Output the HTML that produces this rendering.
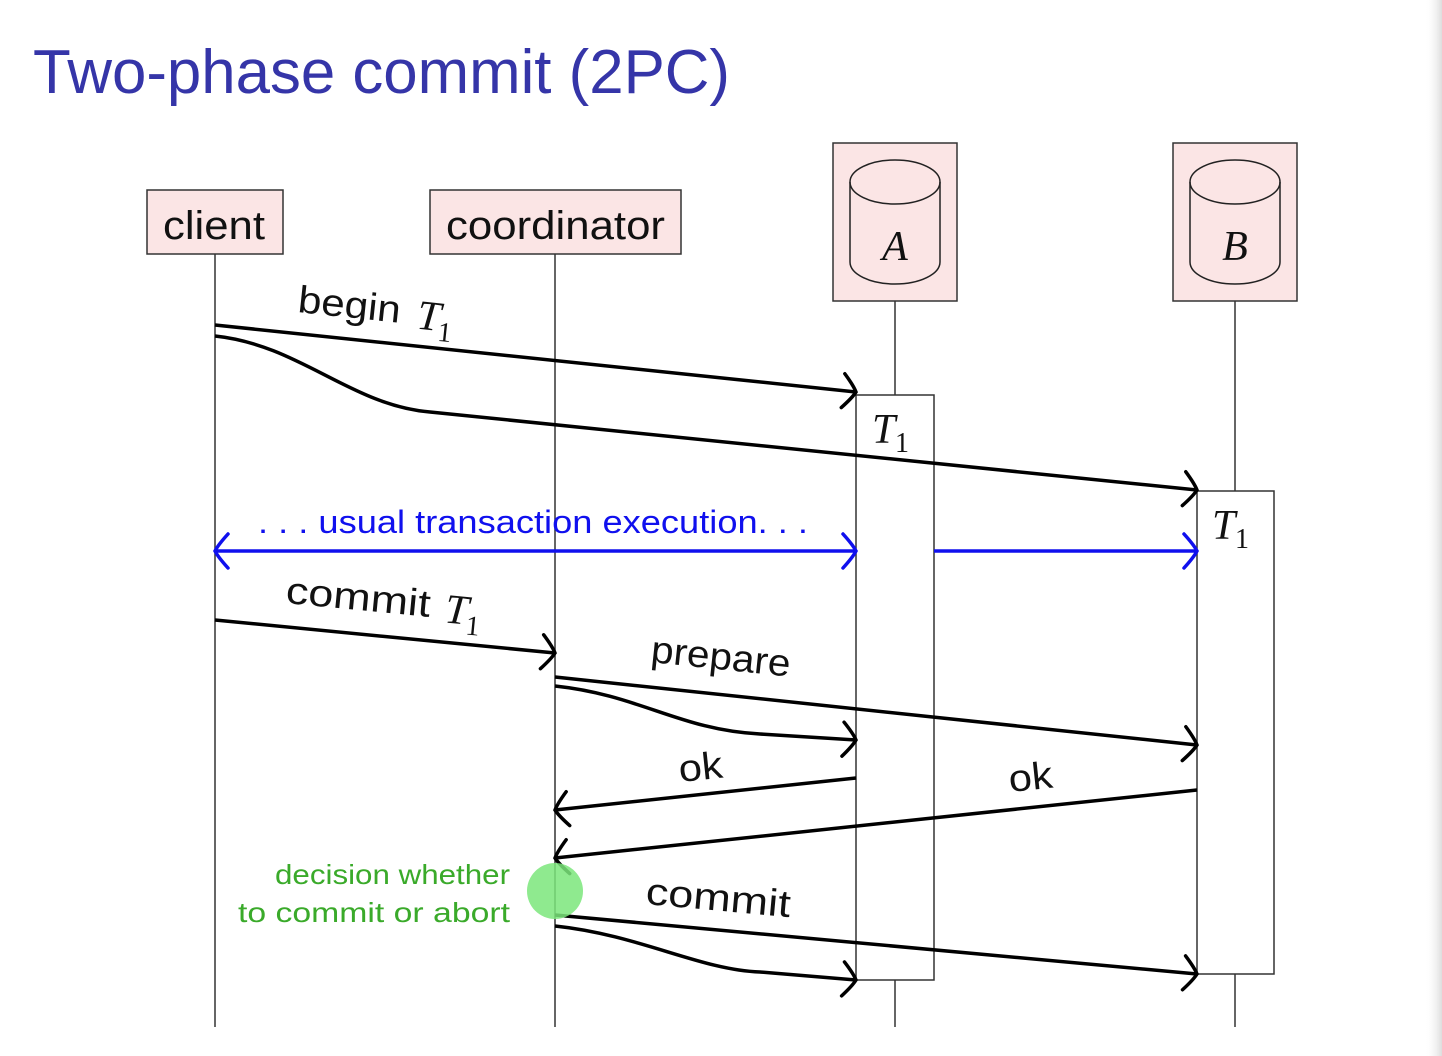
<!DOCTYPE html>
<html><head><meta charset="utf-8"><style>
html,body{margin:0;padding:0;background:#fff;}
svg{display:block;}
</style></head><body>
<svg width="1442" height="1056" viewBox="0 0 1442 1056" xmlns="http://www.w3.org/2000/svg">
<defs>
<linearGradient id="sh" x1="0" x2="1" y1="0" y2="0"><stop offset="0" stop-color="#fff" stop-opacity="0"/><stop offset="1" stop-color="#ddd"/></linearGradient>
<g id="ah"><path d="M-13,-17 Q-3,-6 0,0 Q-3,6 -13,17" fill="none" stroke-width="3.5" stroke-linecap="round"/></g>
</defs>
<rect x="1425" y="0" width="17" height="1056" fill="url(#sh)"/>
<text x="33" y="93" font-family="Liberation Sans, sans-serif" font-size="62" fill="#3535a8" textLength="697" lengthAdjust="spacingAndGlyphs">Two-phase commit (2PC)</text>

<g stroke="#333" stroke-width="1.5">
<line x1="215" y1="254" x2="215" y2="1027"/>
<line x1="555" y1="254" x2="555" y2="1027"/>
<line x1="895" y1="301" x2="895" y2="395"/>
<line x1="895" y1="980" x2="895" y2="1027"/>
<line x1="1235" y1="301" x2="1235" y2="491"/>
<line x1="1235" y1="974" x2="1235" y2="1027"/>
</g>
<g stroke="#333" stroke-width="1.5" fill="#fbe5e5">
<rect x="147" y="190" width="136" height="64"/>
<rect x="430" y="190" width="251" height="64"/>
<rect x="833" y="143" width="124" height="158"/>
<rect x="1173" y="143" width="124" height="158"/>
</g>
<g font-family="Liberation Sans, sans-serif" font-size="40" fill="#111">
<text x="163" y="239" textLength="102" lengthAdjust="spacingAndGlyphs">client</text>
<text x="446" y="239" textLength="219" lengthAdjust="spacingAndGlyphs">coordinator</text>
</g>
<g stroke="#222" stroke-width="1.5" fill="none">
<ellipse cx="895" cy="182" rx="45" ry="22"/>
<path d="M850,182 L850,262 A45,22 0 0 0 940,262 L940,182"/>
<ellipse cx="1235" cy="182" rx="45" ry="22"/>
<path d="M1190,182 L1190,262 A45,22 0 0 0 1280,262 L1280,182"/>
</g>
<g font-family="Liberation Serif, serif" font-style="italic" font-size="42" fill="#111" text-anchor="middle">
<text x="895" y="260">A</text>
<text x="1235" y="260">B</text>
</g>
<g stroke="#333" stroke-width="1.5" fill="#fff">
<rect x="856" y="395" width="78" height="585"/>
<rect x="1197" y="491" width="77" height="483"/>
</g>
<g font-family="Liberation Serif, serif" fill="#111">
<text x="872" y="443" font-size="42" font-style="italic">T</text><text x="895" y="452" font-size="28">1</text>
<text x="1212" y="539" font-size="42" font-style="italic">T</text><text x="1235" y="548" font-size="28">1</text>
</g>

<g stroke="#000" stroke-width="3.5" fill="none">
<path d="M215,325 L856,392"/>
<path d="M215,336 C300,345 350,405 430,412 L1197,490"/>
<path d="M215,620 L555,653"/>
<path d="M555,677 L1197,745"/>
<path d="M555,686 C640,695 680,730 760,734 L856,740"/>
<path d="M856,778 L555,810"/>
<path d="M1197,790 L555,858"/>
<path d="M555,915 L1197,974"/>
<path d="M555,926 C640,935 700,970 760,972 L856,980"/>
</g>
<g stroke="#000">
<use href="#ah" transform="translate(856,392) rotate(6)"/>
<use href="#ah" transform="translate(1197,490) rotate(5.8)"/>
<use href="#ah" transform="translate(555,653) rotate(5.5)"/>
<use href="#ah" transform="translate(1197,745) rotate(6)"/>
<use href="#ah" transform="translate(856,740) rotate(3.6)"/>
<use href="#ah" transform="translate(555,810) rotate(174)"/>
<use href="#ah" transform="translate(555,858) rotate(174)"/>
<use href="#ah" transform="translate(1197,974) rotate(5.2)"/>
<use href="#ah" transform="translate(856,980) rotate(4.8)"/>
</g>
<g stroke="#1010ee" stroke-width="3.5" fill="none">
<path d="M215,551 L856,551"/>
<path d="M934,551 L1197,551"/>
</g>
<g stroke="#1010ee">
<use href="#ah" transform="translate(856,551)"/>
<use href="#ah" transform="translate(215,551) rotate(180)"/>
<use href="#ah" transform="translate(1197,551)"/>
</g>
<text x="258" y="533" font-family="Liberation Sans, sans-serif" font-size="32" fill="#1010ee" textLength="550" lengthAdjust="spacingAndGlyphs">. . . usual transaction execution. . .</text>

<g font-family="Liberation Sans, sans-serif" font-size="38" fill="#111">
<g transform="translate(297,312) rotate(6)"><text x="0" y="0" textLength="103" lengthAdjust="spacingAndGlyphs">begin</text><text x="120" y="4" font-family="Liberation Serif, serif" font-style="italic" font-size="42">T</text><text x="142" y="14" font-family="Liberation Serif, serif" font-size="28">1</text></g>
<g transform="translate(285,603) rotate(5.5)"><text x="0" y="0" textLength="145" lengthAdjust="spacingAndGlyphs">commit</text><text x="160" y="4" font-family="Liberation Serif, serif" font-style="italic" font-size="42">T</text><text x="182" y="14" font-family="Liberation Serif, serif" font-size="28">1</text></g>
<text transform="translate(650,662) rotate(6)" textLength="140" lengthAdjust="spacingAndGlyphs">prepare</text>
<text transform="translate(680,782) rotate(-6)" textLength="44" lengthAdjust="spacingAndGlyphs">ok</text>
<text transform="translate(1010,792) rotate(-6)" textLength="44" lengthAdjust="spacingAndGlyphs">ok</text>
<text transform="translate(645,904) rotate(5.2)" textLength="145" lengthAdjust="spacingAndGlyphs">commit</text>
</g>

<circle cx="555" cy="891" r="28" fill="#7be67b" fill-opacity="0.85"/>
<g font-family="Liberation Sans, sans-serif" font-size="28" fill="#3aaa2a">
<text x="275" y="884" textLength="235" lengthAdjust="spacingAndGlyphs">decision whether</text>
<text x="238" y="922" textLength="272" lengthAdjust="spacingAndGlyphs">to commit or abort</text>
</g>
</svg>
</body></html>
